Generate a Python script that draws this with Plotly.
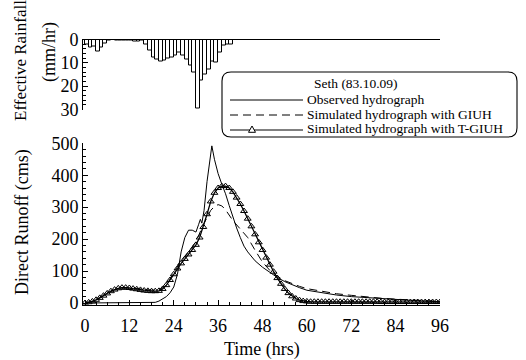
import plotly.graph_objects as go

# ---------------- data ----------------
rain_hour = list(range(40))
rain_mm = [2, 3.5, 3, 5, 3.5, 1.5, 0.3, 0.2, 0.4, 0.5, 0.5, 0.3, 0.3, 0.8, 1.0, 0.6,
           2.0, 4.5, 7.5, 8.7, 9.5, 9.0, 8.3, 7.5, 6.8, 5.5, 7.0, 8.5, 11, 14, 29.5,
           17.5, 15, 13, 9.5, 10, 5.5, 2.5, 2, 2]

obs_t = [0, 18, 19, 20, 21, 22, 23, 24, 25, 26, 27, 28, 29, 30, 30.7, 31.2, 31.6, 32.2,
         33, 34, 34.3, 35, 36, 37, 38, 39, 40, 41, 42, 43, 44, 45, 46, 48, 50, 52, 54,
         56, 58, 60, 64, 68, 72, 78, 84, 90, 96]
obs_q = [0, 0, 2, 6, 12, 20, 32, 50, 90, 160, 205, 228, 228, 222, 245, 262, 250, 290,
         380, 480, 492, 450, 405, 372, 342, 305, 268, 235, 205, 178, 160, 146, 132, 112,
         95, 80, 67, 57, 48, 40, 32, 25, 20, 15, 11, 7, 4]

giuh_t = [0, 2, 4, 6, 8, 10, 12, 14, 16, 18, 20, 22, 24, 26, 28, 30, 32, 34, 35, 36, 37,
          38, 40, 42, 44, 46, 48, 50, 52, 54, 56, 58, 60, 64, 68, 72, 76, 80, 84, 88, 92, 96]
giuh_q = [0, 5, 15, 30, 42, 48, 48, 45, 42, 40, 41, 55, 95, 132, 160, 192, 245, 290, 302,
          308, 304, 292, 258, 232, 205, 165, 128, 102, 84, 70, 60, 52, 45, 36, 29, 24, 19,
          15, 12, 9, 7, 5]

tgiuh_t = list(range(97))
tgiuh_q = [0, 2, 5, 10, 16, 23, 30, 37, 42, 46, 48, 48, 47, 45, 43, 41, 39, 38, 37, 37,
           38, 44, 56, 72, 90, 108, 124, 138, 152, 166, 182, 205, 238, 278, 318, 345, 360,
           366, 366, 360, 348, 330, 310, 288, 264, 240, 215, 190, 166, 142, 120, 98, 78,
           60, 44, 31, 21, 14, 9, 6, 5, 4, 4, 4, 4, 4, 4, 4, 4, 4, 4, 4, 4, 4, 4, 4, 4, 4,
           4, 4, 3, 3, 3, 3, 3, 3, 3, 3, 3, 3, 3, 3, 3, 3, 3, 3, 3]

x_ticks = [0, 12, 24, 36, 48, 60, 72, 84, 96]
q_ticks = [0, 100, 200, 300, 400, 500]
r_ticks = [0, 10, 20, 30]

legend_title = "Seth (83.10.09)"
names = ["Observed hydrograph", "Simulated hydrograph with GIUH",
         "Simulated hydrograph with T-GIUH"]

# ---------------- figure ----------------
W, H = 526, 360
FONT = "Liberation Serif"


def px(x):
    return x / W


def py(y):
    return (H - y) / H


fig = go.Figure()

fig.add_trace(go.Bar(x=[h + 0.5 for h in rain_hour], y=rain_mm, width=1,
                     marker=dict(color="white", line=dict(color="black", width=1)),
                     xaxis="x2", yaxis="y2", showlegend=False))

fig.add_trace(go.Scatter(x=obs_t, y=obs_q, mode="lines", name=names[0],
                         line=dict(color="black", width=1), showlegend=False))
fig.add_trace(go.Scatter(x=giuh_t, y=giuh_q, mode="lines", name=names[1],
                         line=dict(color="black", width=1, dash="8px,5px"),
                         showlegend=False))
fig.add_trace(go.Scatter(x=tgiuh_t, y=tgiuh_q, mode="lines+markers", name=names[2],
                         line=dict(color="black", width=1.3),
                         marker=dict(symbol="triangle-up-open", size=6, color="black",
                                     line=dict(width=1)),
                         showlegend=False))

xdom = [px(83), px(440)]
xrange = [-0.54, 96]
axis_common = dict(showgrid=False, zeroline=False, showline=True, linecolor="black",
                   linewidth=1, ticks="inside", tickcolor="black", ticklen=5,
                   automargin=False,
                   tickfont=dict(family=FONT, size=18, color="black"))

fig.update_layout(
    template="none",
    width=W, height=H, margin=dict(l=0, r=0, t=0, b=0, pad=0), autosize=False,
    paper_bgcolor="white", plot_bgcolor="white", showlegend=False,
    font=dict(family=FONT, color="black"),
    bargap=0,
    xaxis=dict(domain=xdom, range=xrange, anchor="y", tickvals=x_ticks,
               ticklabelstandoff=5,
               minor=dict(dtick=3, ticks="inside", ticklen=3, tickcolor="black"),
               **axis_common),
    yaxis=dict(domain=[py(304.5), py(143.3)], range=[-4.7, 500], anchor="x",
               tickvals=q_ticks,
               minor=dict(dtick=20, ticks="inside", ticklen=3, tickcolor="black"),
               **axis_common),
    xaxis2=dict(domain=xdom, range=xrange, anchor="y2", side="top", showgrid=False,
                zeroline=False, showline=True, linecolor="black", linewidth=1,
                ticks="", showticklabels=False, automargin=False),
    yaxis2=dict(domain=[py(109.5), py(39.5)], range=[30, 0], anchor="x2",
                tickvals=r_ticks,
                minor=dict(dtick=2, ticks="inside", ticklen=3, tickcolor="black"),
                **axis_common),
)


def label(x, y, text, size, angle=0, xanchor="center"):
    fig.add_annotation(x=px(x), y=py(y), xref="paper", yref="paper", text=text,
                       textangle=angle, showarrow=False, xanchor=xanchor,
                       yanchor="middle", borderpad=0,
                       font=dict(family=FONT, size=size, color="black"))


# axis titles
label(262, 349, "Time (hrs)", 18)
label(22, 222, "Direct Runoff (cms)", 18, -90)
label(21, 61, "Effective Rainfall", 17, -90)
label(49, 52, "(mm/hr)", 18, -90)

# custom legend box (rounded)
x0, x1, y0, y1, r = 222, 517, 72, 137, 9
path = (f"M {px(x0 + r)} {py(y0)} L {px(x1 - r)} {py(y0)} "
        f"Q {px(x1)} {py(y0)} {px(x1)} {py(y0 + r)} L {px(x1)} {py(y1 - r)} "
        f"Q {px(x1)} {py(y1)} {px(x1 - r)} {py(y1)} L {px(x0 + r)} {py(y1)} "
        f"Q {px(x0)} {py(y1)} {px(x0)} {py(y1 - r)} L {px(x0)} {py(y0 + r)} "
        f"Q {px(x0)} {py(y0)} {px(x0 + r)} {py(y0)} Z")
fig.add_shape(type="path", path=path, xref="paper", yref="paper",
              line=dict(color="black", width=1.1), fillcolor="white", layer="above")

LF = 13.5
label(313, 83.5, legend_title, LF, xanchor="left")
rows_y = [99, 114, 129]
dashes = ["solid", "8px,5px", "solid"]
for yy, nm, ds in zip(rows_y, names, dashes):
    fig.add_shape(type="line", xref="paper", yref="paper", x0=px(230), x1=px(303),
                  y0=py(yy + 1), y1=py(yy + 1), line=dict(color="black", width=1, dash=ds),
                  layer="above")
    label(306, yy, nm, LF, xanchor="left")
# triangle key marker
tx, ty, s = 252, 129.5, 3.5
fig.add_shape(type="path", xref="paper", yref="paper",
              path=(f"M {px(tx - s)} {py(ty + s*0.8)} L {px(tx + s)} {py(ty + s*0.8)} "
                    f"L {px(tx)} {py(ty - s)} Z"),
              line=dict(color="black", width=1), fillcolor="white", layer="above")

fig.write_html("out.html")
